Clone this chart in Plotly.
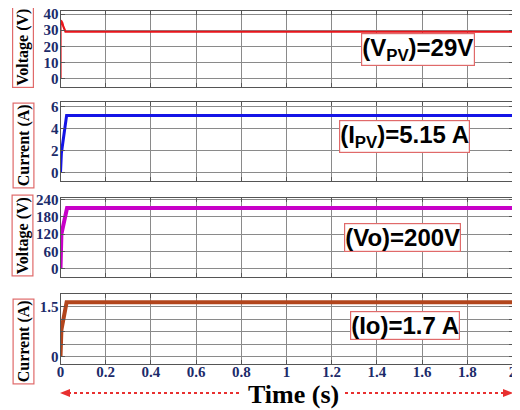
import plotly.graph_objects as go

# ---- data ----
t_vpv = [0, 0, 0.004, 0.008, 0.012, 0.016, 0.022, 2.0]
v_pv = [0, 36, 35.5, 34.5, 32.5, 30.5, 29, 29]

t_ipv = [0, 0.004, 0.027, 2.0]
i_pv = [0, 1.8, 5.2, 5.2]

t_vo = [0, 0.004, 0.029, 2.0]
v_o = [0, 120, 210, 210]

t_io = [0, 0.004, 0.027, 2.0]
i_o = [0, 0.8, 1.63, 1.63]

x_ticks = [0, 0.2, 0.4, 0.6, 0.8, 1.0, 1.2, 1.4, 1.6, 1.8, 2.0]
x_ticktext = ["0", "0.2", "0.4", "0.6", "0.8", "1", "1.2", "1.4", "1.6", "1.8", "2"]

y1_ticks = [0, 10, 20, 30, 40]
y2_ticks = [0, 2, 4, 6]
y3_ticks = [0, 60, 120, 180, 240]
y4_ticks = [0, 0.375, 0.75, 1.125, 1.5, 1.875]
y4_ticktext = ["0", "", "", "", "1.5", ""]

y_titles = ["Voltage (V)", "Current (A)", "Voltage (V)", "Current (A)"]
notes = ["<b>(V<sub>PV</sub>)=29V</b>", "<b>(I<sub>PV</sub>)=5.15 A</b>",
         "<b>(Vo)=200V</b>", "<b>(Io)=1.7 A</b>"]

# the page body adds an 8px offset; lay out in window pixels and convert
OFF = 8
W, H = 520 - OFF, 410 - OFF
def px(x):
    return (x - OFF) / W
def py(y):
    return 1 - (y - OFF) / H

# panel pixel extents (top, bottom), in window pixels
panels = [(10.5, 86.5), (102, 181), (198, 277), (294, 364)]
yranges = [[-4.96, 42.2], [-0.75, 6.43], [-27.6, 244.5], [-0.22, 1.88]]
series = [(t_vpv, v_pv, "#e8151b", 2.2), (t_ipv, i_pv, "#1414e6", 3),
          (t_vo, v_o, "#c800c8", 4), (t_io, i_o, "#b2451c", 4)]
yticks = [(y1_ticks, None), (y2_ticks, None), (y3_ticks, None), (y4_ticks, y4_ticktext)]

fig = go.Figure()
tickfont = dict(family="Liberation Serif", size=15, color="#1c2b6a", weight="bold")

for i in range(4):
    n = "" if i == 0 else str(i + 1)
    t, v, c, w = series[i]
    fig.add_trace(go.Scatter(x=t, y=v, mode="lines", line=dict(color=c, width=w),
                             xaxis="x" + n, yaxis="y" + n, showlegend=False))
    top, bot = panels[i]
    fig.layout["xaxis" + n] = dict(
        domain=[px(60.5), px(512.5)], range=[0, 2], anchor="y" + n,
        tickvals=x_ticks, ticktext=x_ticktext, showticklabels=(i == 3),
        showgrid=True, gridcolor="#8a8a8a", gridwidth=1,
        showline=True, linecolor="#555", linewidth=1, mirror="ticks",
        ticks="inside", ticklen=4, tickcolor="#555", zeroline=False,
        tickfont=tickfont, automargin=False, ticklabeloverflow="allow",
        ticklabelstandoff=-6)
    tv, tt = yticks[i]
    ya = dict(domain=[py(bot), py(top)], range=yranges[i], anchor="x" + n,
              tickvals=tv, showgrid=True, gridcolor="#8a8a8a", gridwidth=1,
              showline=True, linecolor="#555", linewidth=1, mirror="ticks",
              ticks="inside", ticklen=4, tickcolor="#555", zeroline=False,
              tickfont=tickfont, automargin=False, ticklabeloverflow="allow",
              ticklabelstandoff=-2)
    if tt is not None:
        ya["ticktext"] = tt
    fig.layout["yaxis" + n] = ya

annotations = []
label_centers = [47, 145.5, 235.5, 341.5]
for i in range(4):
    annotations.append(dict(
        text="<b>" + y_titles[i] + "</b>", textangle=-90, xref="paper", yref="paper",
        x=px(23), y=py(label_centers[i]), xanchor="center", yanchor="middle",
        showarrow=False,
        font=dict(family="Liberation Serif", size=16, color="black"),
        bordercolor="#e06a6a", borderwidth=1.2, borderpad=1, bgcolor="white"))

note_pos = [(417.5, 50), (404, 137), (402.5, 237.5), (404.5, 325.5)]
for i in range(4):
    x, y = note_pos[i]
    annotations.append(dict(
        text=notes[i], xref="paper", yref="paper", x=px(x), y=py(y),
        xanchor="center", yanchor="middle",
        showarrow=False, font=dict(family="Liberation Sans", size=24, color="black"),
        bordercolor="#e06a6a", borderwidth=1.2, borderpad=0, bgcolor="white"))

annotations.append(dict(
    text="<b>Time (s)</b>", xref="paper", yref="paper", x=px(293), y=py(394),
    xanchor="center", yanchor="middle",
    showarrow=False, font=dict(family="Liberation Serif", size=26, color="black")))

ay = py(393)
shapes = [
    dict(type="line", xref="paper", yref="paper", x0=px(68), x1=px(242), y0=ay, y1=ay,
         line=dict(color="#e83030", width=2, dash="dot")),
    dict(type="line", xref="paper", yref="paper", x0=px(345), x1=px(505), y0=ay, y1=ay,
         line=dict(color="#e83030", width=2, dash="dot")),
    dict(type="path", xref="paper", yref="paper",
         path=f"M {px(60)} {ay} L {px(70)} {py(389)} L {px(70)} {py(397)} Z",
         fillcolor="#e83030", line=dict(width=0)),
    dict(type="path", xref="paper", yref="paper",
         path=f"M {px(513)} {ay} L {px(503)} {py(389)} L {px(503)} {py(397)} Z",
         fillcolor="#e83030", line=dict(width=0)),
]

fig.update_layout(width=W, height=H, margin=dict(l=0, r=0, t=0, b=0, autoexpand=False),
                  paper_bgcolor="white", plot_bgcolor="white",
                  annotations=annotations, shapes=shapes)

fig.write_html("out.html")
